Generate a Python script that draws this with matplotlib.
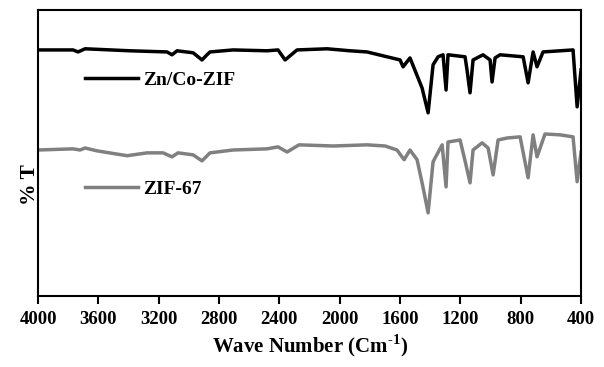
import matplotlib
matplotlib.use("Agg")
import matplotlib.pyplot as plt

# FTIR data (wave number in cm-1, %T in arbitrary units)
wn_zncozif = [4000, 3768, 3735, 3688, 3390, 3145, 3112, 3078, 2972, 2913, 2880, 2860,
              2707, 2482, 2409, 2362, 2283, 2084, 1931, 1819, 1686, 1600, 1580, 1534,
              1454, 1414, 1381, 1348, 1315, 1295, 1282, 1169, 1156, 1136, 1116, 1050,
              1003, 990, 970, 937, 784, 751, 718, 692, 652, 453, 426, 400]
t_zncozif = [86.0, 86.0, 85.3, 86.4, 85.7, 85.3, 84.3, 85.7, 85.0, 82.5, 84.3, 85.3,
             86.0, 85.7, 86.0, 82.5, 86.0, 86.4, 85.7, 85.3, 83.6, 82.5, 80.1, 83.2,
             72.7, 64.0, 80.8, 83.6, 84.3, 72.0, 84.3, 83.6, 79.0, 71.0, 82.5, 84.3,
             82.5, 74.8, 83.2, 84.3, 83.6, 74.5, 85.3, 80.1, 85.3, 86.0, 66.1, 79.0]

wn_zif67 = [4000, 3768, 3722, 3688, 3609, 3410, 3277, 3171, 3112, 3072, 2972, 2913,
            2860, 2707, 2482, 2409, 2349, 2270, 2044, 1819, 1699, 1620, 1573, 1534,
            1487, 1447, 1414, 1381, 1321, 1295, 1282, 1202, 1169, 1136, 1116, 1056,
            1016, 983, 950, 890, 804, 751, 718, 692, 639, 539, 453, 426, 400]
t_zif67 = [51.0, 51.4, 51.0, 51.7, 50.7, 49.0, 50.0, 50.0, 48.6, 50.0, 49.3, 47.2,
           50.0, 51.0, 51.4, 52.1, 50.3, 52.8, 52.4, 52.8, 52.4, 51.0, 47.6, 51.0,
           47.6, 37.8, 29.0, 46.9, 52.8, 38.1, 53.8, 54.5, 47.2, 39.5, 51.0, 53.5,
           51.7, 42.3, 54.5, 55.2, 55.6, 41.3, 56.3, 48.6, 56.6, 56.3, 55.6, 39.9, 50.3]

plt.rcParams['font.family'] = 'Liberation Serif'
plt.rcParams['font.weight'] = 'bold'
plt.rcParams['mathtext.fontset'] = 'custom'
plt.rcParams['mathtext.rm'] = 'Liberation Serif:bold'
plt.rcParams['mathtext.bf'] = 'Liberation Serif:bold'

fig = plt.figure(figsize=(6.04, 3.67), dpi=100)
ax = fig.add_axes([0.063, 0.194, 0.899, 0.779])

l1, = ax.plot(wn_zncozif, t_zncozif, color='black', lw=2.5, solid_joinstyle='round')
l2, = ax.plot(wn_zif67, t_zif67, color='#808080', lw=2.5, solid_joinstyle='round')

ax.set_xlim(4000, 400)
ax.set_ylim(0, 100)
ax.set_xticks(range(4000, 399, -400))
ax.set_yticks([])
ax.tick_params(axis='x', direction='out', length=6, width=1.5, labelsize=13.5, pad=5)
for s in ax.spines.values():
    s.set_linewidth(1.5)

ax.set_xlabel(r'Wave Number (Cm$^{\text{-1}}$)', fontsize=15, fontweight='bold', labelpad=3)
ax.set_ylabel('% T', fontsize=15.5, fontweight='bold')
ax.yaxis.set_label_coords(0.003, 0.388)

leg1 = ax.legend([l1], ['Zn/Co-ZIF'], loc='center left', bbox_to_anchor=(0.087, 0.755),
                 frameon=False, fontsize=14, handlelength=2.7, handletextpad=0.25,
                 borderpad=0, borderaxespad=0)
ax.add_artist(leg1)
ax.legend([l2], ['ZIF-67'], loc='center left', bbox_to_anchor=(0.087, 0.374),
          frameon=False, fontsize=14, handlelength=2.7, handletextpad=0.25,
          borderpad=0, borderaxespad=0)

fig.savefig('out.png', dpi=100)
